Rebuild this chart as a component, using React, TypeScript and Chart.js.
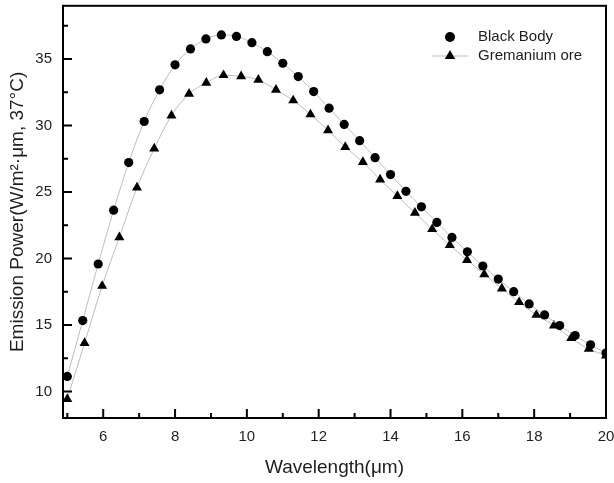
import React, { useEffect, useRef } from "react";
import { Chart, registerables } from "chart.js";

Chart.register(...registerables);

const seriesNames = ["Black Body", "Gremanium ore"];

const blackBodyX = [
  5.0, 5.43, 5.86, 6.29, 6.71, 7.14, 7.57, 8.0, 8.43, 8.86, 9.29, 9.71,
  10.14, 10.57, 11.0, 11.43, 11.86, 12.29, 12.71, 13.14, 13.57, 14.0, 14.43, 14.86,
  15.29, 15.71, 16.14, 16.57, 17.0, 17.43, 17.86, 18.29, 18.71, 19.14, 19.57, 20.0,
];
const blackBodyY = [
  11.13, 15.33, 19.58, 23.63, 27.21, 30.3, 32.68, 34.56, 35.76, 36.51, 36.81, 36.7,
  36.23, 35.55, 34.68, 33.68, 32.55, 31.3, 30.08, 28.86, 27.58, 26.31, 25.05, 23.88,
  22.71, 21.58, 20.5, 19.43, 18.45, 17.5, 16.58, 15.75, 14.95, 14.2, 13.5, 12.88,
];

const germaniumX = [
  5.0, 5.48, 5.97, 6.45, 6.94, 7.42, 7.9, 8.39, 8.87, 9.35, 9.84, 10.32,
  10.81, 11.29, 11.77, 12.26, 12.74, 13.23, 13.71, 14.19, 14.68, 15.16, 15.65, 16.13,
  16.61, 17.1, 17.58, 18.06, 18.55, 19.03, 19.52, 20.0,
];
const germaniumY = [
  9.43, 13.63, 17.93, 21.59, 25.33, 28.26, 30.75, 32.38, 33.21, 33.78, 33.69, 33.43,
  32.68, 31.88, 30.83, 29.63, 28.38, 27.25, 25.93, 24.69, 23.43, 22.2, 21.0, 19.88,
  18.81, 17.73, 16.71, 15.75, 14.95, 14.0, 13.2, 12.7,
];

const xMajorTicks = [6, 8, 10, 12, 14, 16, 18, 20];
const xMinorTicks = [5, 7, 9, 11, 13, 15, 17, 19];
const yMajorTicks = [10, 15, 20, 25, 30, 35];
const yMinorTicks = [12.5, 17.5, 22.5, 27.5, 32.5, 37.5];

const FONT = "'Liberation Sans', Arial, sans-serif";
const TEXT = "#1e1e1e";
const LINE = "#bdbdbd";

function drawTriangle(ctx: CanvasRenderingContext2D, x: number, y: number, r: number) {
  const s = Math.sin(Math.PI / 3) * r;
  ctx.beginPath();
  ctx.moveTo(x, y - r);
  ctx.lineTo(x + s, y + r / 2);
  ctx.lineTo(x - s, y + r / 2);
  ctx.closePath();
  ctx.fill();
}

const framePlugin = {
  id: "frameTicksLegend",
  afterDraw(chart: any) {
    const { ctx, chartArea, scales } = chart;
    const { left, right, top, bottom } = chartArea;
    const xs = scales.x;
    const ys = scales.y;
    ctx.save();
    ctx.strokeStyle = "#000";
    ctx.lineWidth = 2;
    ctx.strokeRect(left, top, right - left, bottom - top);
    ctx.beginPath();
    xMajorTicks.forEach((v) => {
      const p = xs.getPixelForValue(v);
      ctx.moveTo(p, bottom);
      ctx.lineTo(p, bottom - 9);
    });
    xMinorTicks.forEach((v) => {
      const p = xs.getPixelForValue(v);
      ctx.moveTo(p, bottom);
      ctx.lineTo(p, bottom - 5);
    });
    yMajorTicks.forEach((v) => {
      const p = ys.getPixelForValue(v);
      ctx.moveTo(left, p);
      ctx.lineTo(left + 9, p);
    });
    yMinorTicks.forEach((v) => {
      const p = ys.getPixelForValue(v);
      ctx.moveTo(left, p);
      ctx.lineTo(left + 5, p);
    });
    ctx.stroke();

    // legend
    ctx.fillStyle = "#000";
    ctx.beginPath();
    ctx.arc(450, 37, 5, 0, Math.PI * 2);
    ctx.fill();
    ctx.strokeStyle = LINE;
    ctx.lineWidth = 1;
    ctx.beginPath();
    ctx.moveTo(432, 56);
    ctx.lineTo(468, 56);
    ctx.stroke();
    ctx.fillStyle = "#000";
    drawTriangle(ctx, 450, 56, 6);
    ctx.fillStyle = TEXT;
    ctx.font = `15px ${FONT}`;
    ctx.textAlign = "left";
    ctx.textBaseline = "middle";
    ctx.fillText(seriesNames[0], 478, 37);
    ctx.fillText(seriesNames[1], 478, 56);
    ctx.restore();
  },
};

export default function App() {
  const ref = useRef<HTMLCanvasElement | null>(null);

  useEffect(() => {
    if (!ref.current) return;
    const chart = new Chart(ref.current, {
      type: "line",
      data: {
        datasets: [
          {
            label: seriesNames[0],
            data: blackBodyX.map((x, i) => ({ x, y: blackBodyY[i] })),
            borderColor: LINE,
            borderWidth: 1,
            pointStyle: "circle",
            pointRadius: 4.6,
            pointBackgroundColor: "#000",
            pointBorderColor: "#000",
            pointBorderWidth: 0,
            cubicInterpolationMode: "monotone",
            fill: false,
          },
          {
            label: seriesNames[1],
            data: germaniumX.map((x, i) => ({ x, y: germaniumY[i] })),
            borderColor: LINE,
            borderWidth: 1,
            pointStyle: "triangle",
            pointRadius: 5.8,
            pointBackgroundColor: "#000",
            pointBorderColor: "#000",
            pointBorderWidth: 0,
            cubicInterpolationMode: "monotone",
            fill: false,
          },
        ],
      },
      options: {
        animation: false,
        responsive: false,
        layout: { padding: { top: 5, right: 8, left: 0, bottom: 0 } },
        plugins: { legend: { display: false }, tooltip: { enabled: false } },
        scales: {
          x: {
            type: "linear",
            min: 4.88,
            max: 20,
            afterBuildTicks: (s: any) => {
              s.ticks = xMajorTicks.map((v) => ({ value: v }));
            },
            afterFit: (s: any) => {
              s.height = 65;
              s.paddingLeft = 0;
              s.paddingRight = 0;
            },
            grid: { display: false, drawTicks: false },
            border: { display: false },
            ticks: {
              autoSkip: false,
              maxRotation: 0,
              padding: 10,
              color: TEXT,
              font: { family: FONT, size: 15 },
              callback: (v: any) => String(v),
            },
            title: {
              display: true,
              text: "Wavelength(μm)",
              color: TEXT,
              font: { family: FONT, size: 19 },
              padding: { top: 0, bottom: 4 },
            },
          },
          y: {
            type: "linear",
            min: 8,
            max: 39,
            afterBuildTicks: (s: any) => {
              s.ticks = yMajorTicks.map((v) => ({ value: v }));
            },
            afterFit: (s: any) => {
              s.width = 63;
              s.paddingTop = 0;
              s.paddingBottom = 0;
            },
            grid: { display: false, drawTicks: false },
            border: { display: false },
            ticks: {
              autoSkip: false,
              padding: 11,
              color: TEXT,
              font: { family: FONT, size: 15 },
              callback: (v: any) => String(v),
            },
            title: {
              display: true,
              text: "Emission Power(W/m²·μm, 37°C)",
              color: TEXT,
              font: { family: FONT, size: 19 },
              padding: { top: 6, bottom: 0 },
            },
          },
        },
      },
      plugins: [framePlugin],
    } as any);
    return () => chart.destroy();
  }, []);

  return (
    <div style={{ position: "absolute", left: 0, top: 0, width: 614, height: 483, background: "#fff" }}>
      <canvas ref={ref} width={614} height={483} style={{ display: "block" }} />
    </div>
  );
}
